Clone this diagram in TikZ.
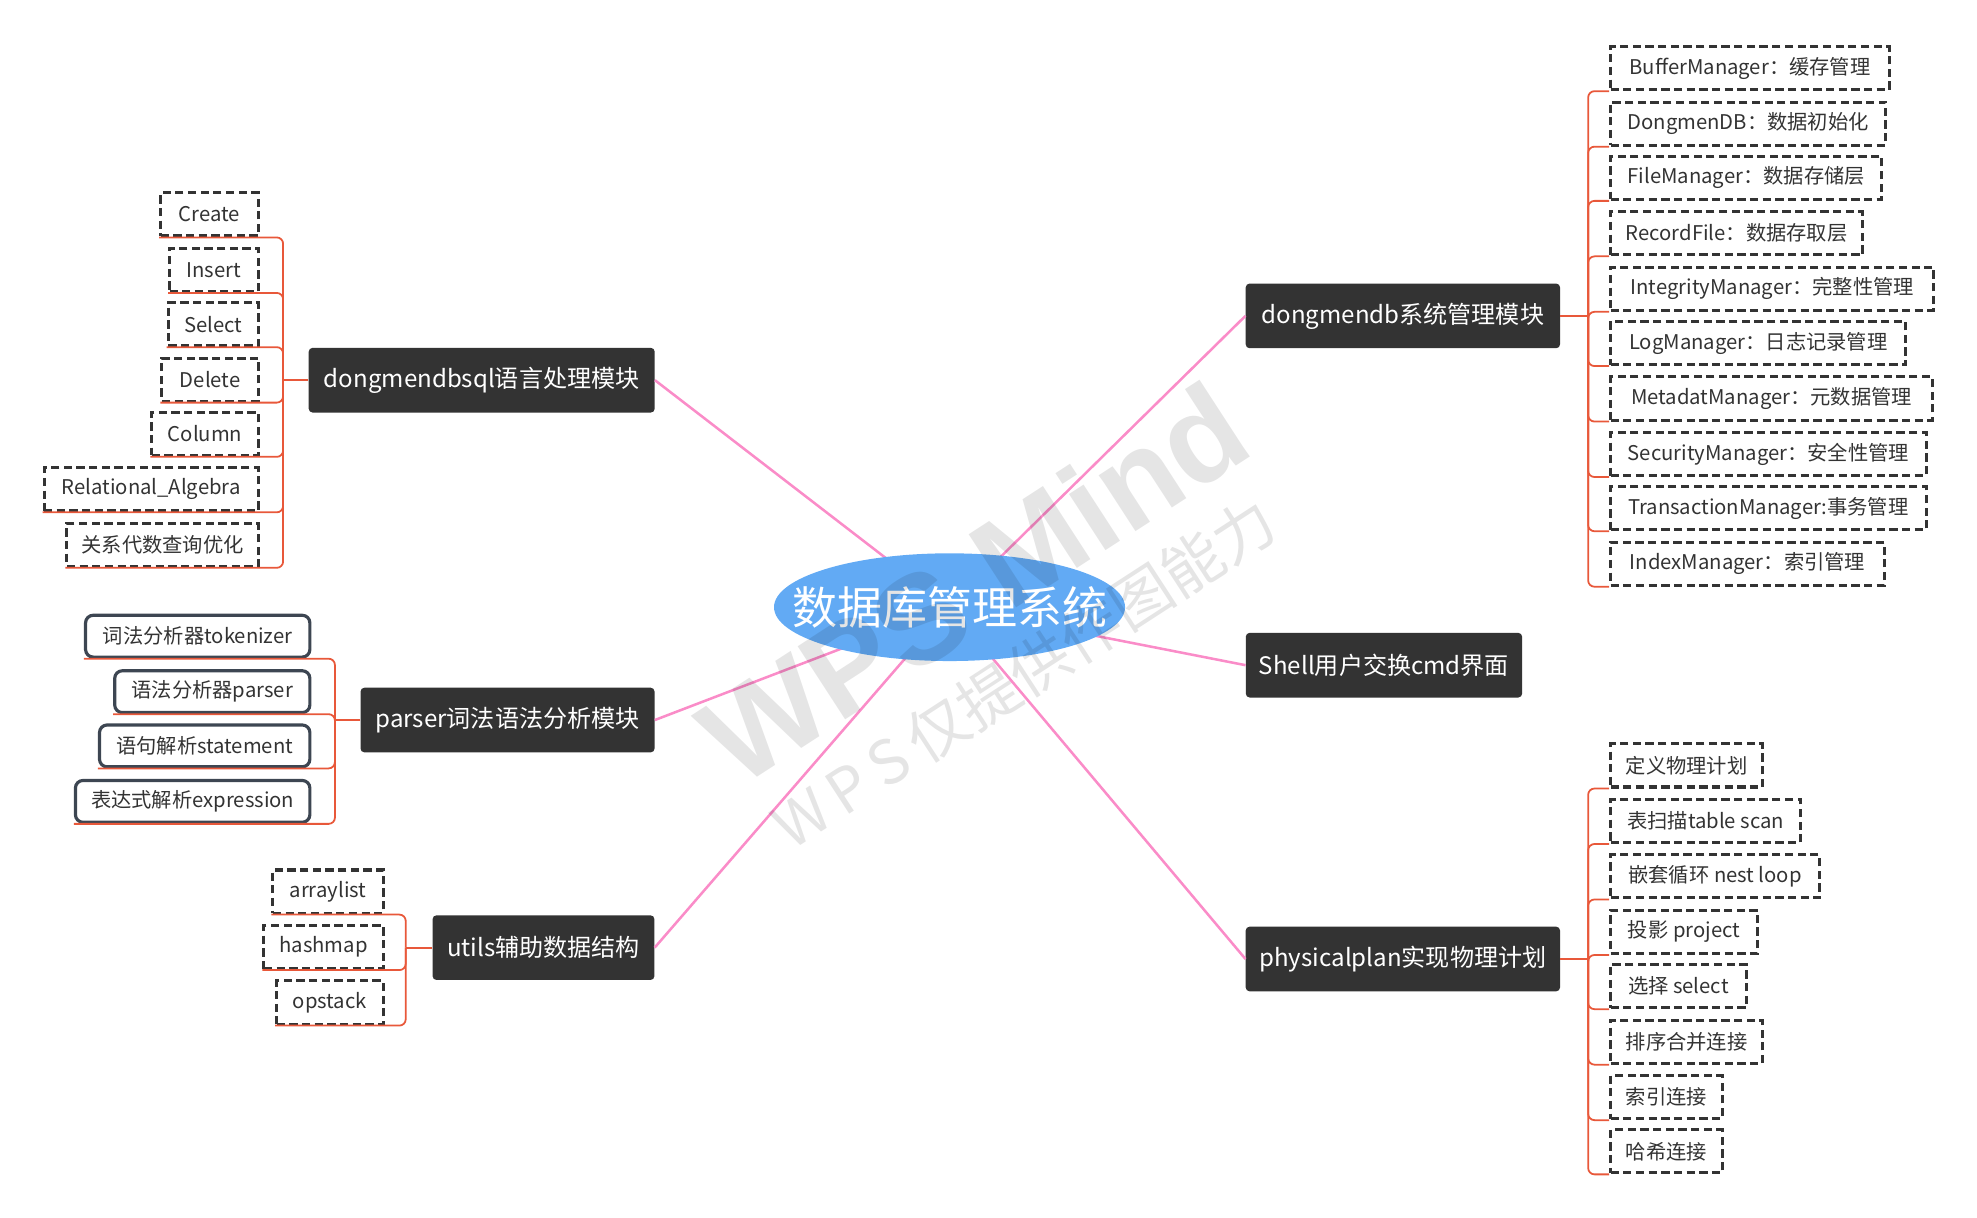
\documentclass[tikz,border=0pt]{standalone}
\usepackage{fontspec}
\setmainfont{Noto Sans CJK SC}
\newfontfamily\wmfont{Liberation Sans}
\usetikzlibrary{shapes.geometric}
\definecolor{boxc}{HTML}{333333}
\definecolor{leafc}{HTML}{333333}
\definecolor{slatec}{HTML}{3D4652}
\definecolor{brc}{HTML}{E8583A}
\definecolor{pinkc}{HTML}{FA8CC8}
\definecolor{centc}{HTML}{62AAF4}
\begin{document}
\begin{tikzpicture}[x=0.995pt,y=-0.995pt,
  mainbox/.style={fill=boxc, rounded corners=3pt, text=white, font=\fontsize{19}{23}\selectfont, minimum height=51pt, inner xsep=4pt, inner ysep=0pt},
  leafd/.style={draw=leafc, line width=2.4pt, dash pattern=on 6.5pt off 3.5pt, text=leafc, font=\fontsize{16}{19}\selectfont, minimum height=34pt, inner xsep=3pt, inner ysep=0pt},
  leafr/.style={draw=slatec, line width=2.5pt, rounded corners=6pt, text=leafc, font=\fontsize{16}{19}\selectfont, minimum height=33pt, inner xsep=3pt, inner ysep=0pt},
  br/.style={draw=brc, line width=1.4pt, rounded corners=5pt},
  pk/.style={draw=pinkc, line width=2pt},
  wm/.style={text=black, opacity=0.1, rotate=33}]
\useasboundingbox (0,0) rectangle (1567.8,965.8);
\coordinate (rc) at (753,481.5);
% main topics
\node[mainbox, minimum width=273pt] (m1) at (382,301.5) {dongmendbsql语言处理模块};
\node[mainbox, minimum width=232pt] (m2) at (402.5,571) {parser词法语法分析模块};
\node[mainbox, minimum width=175pt] (m3) at (431,751.5) {utils辅助数据结构};
\node[mainbox, minimum width=248pt] (m4) at (1112.5,250.5) {dongmendb系统管理模块};
\node[mainbox, minimum width=218pt] (m5) at (1097.5,527.5) {Shell用户交换cmd界面};
\node[mainbox, minimum width=248pt] (m6) at (1112.5,760.5) {physicalplan实现物理计划};
% pink connectors
\draw[pk] (rc) -- (m1.east);
\draw[pk] (rc) -- (m2.east);
\draw[pk] (rc) -- (m3.east);
\draw[pk] (rc) -- (m4.west);
\draw[pk] (rc) -- (m5.west);
\draw[pk] (rc) -- (m6.west);
% root
\node[ellipse, fill=centc, minimum width=277pt, minimum height=85pt, inner sep=0pt] (root) at (rc) {};
\node[text=white, font=\fontsize{35.5}{40}\selectfont, inner sep=0pt] (roottxt) at (rc) {数据库管理系统};
% trunk points
\coordinate (t1) at ([xshift=-20pt]m1.west);
\coordinate (t2) at ([xshift=-20pt]m2.west);
\coordinate (t3) at ([xshift=-21pt]m3.west);
\coordinate (t4) at ([xshift=22pt]m4.east);
\coordinate (t6) at ([xshift=22pt]m6.east);
% group 1 leaves
\node[leafd, anchor=east, minimum width=77pt] (c1) at (206,170) {Create};
\node[leafd, anchor=east, minimum width=70pt] (c2) at (206,214) {Insert};
\node[leafd, anchor=east, minimum width=71pt] (c3) at (206,257) {Select};
\node[leafd, anchor=east, minimum width=76pt] (c4) at (206,301) {Delete};
\node[leafd, anchor=east, minimum width=84pt] (c5) at (206,344) {Column};
\node[leafd, anchor=east, minimum width=169pt] (c6) at (206,388) {Relational\_Algebra};
\node[leafd, anchor=east, minimum width=151pt] (c7) at (206,432) {关系代数查询优化};
% group 2 leaves
\node[leafr, anchor=east, minimum width=177pt] (p1) at (247,504.5) {词法分析器tokenizer};
\node[leafr, anchor=east, minimum width=154pt] (p2) at (247,548.5) {语法分析器parser};
\node[leafr, anchor=east, minimum width=166pt] (p3) at (247,591.5) {语句解析statement};
\node[leafr, anchor=east, minimum width=185pt] (p4) at (247,635.5) {表达式解析expression};
% group 3 leaves
\node[leafd, anchor=east, minimum width=87pt] (u1) at (305,707) {arraylist};
\node[leafd, anchor=east, minimum width=94pt] (u2) at (305,751) {hashmap};
\node[leafd, anchor=east, minimum width=84pt] (u3) at (305,795) {opstack};
% group 4 leaves
\node[leafd, anchor=west, minimum width=220pt] (d1) at (1276,54) {BufferManager：缓存管理};
\node[leafd, anchor=west, minimum width=217pt] (d2) at (1276,98) {DongmenDB：数据初始化};
\node[leafd, anchor=west, minimum width=214pt] (d3) at (1276,141) {FileManager：数据存储层};
\node[leafd, anchor=west, minimum width=199pt] (d4) at (1276,185) {RecordFile：数据存取层};
\node[leafd, anchor=west, minimum width=255pt] (d5) at (1276,229) {IntegrityManager：完整性管理};
\node[leafd, anchor=west, minimum width=233pt] (d6) at (1276,272) {LogManager：日志记录管理};
\node[leafd, anchor=west, minimum width=254pt] (d7) at (1276,316) {MetadatManager：元数据管理};
\node[leafd, anchor=west, minimum width=249pt] (d8) at (1276,360) {SecurityManager：安全性管理};
\node[leafd, anchor=west, minimum width=249pt] (d9) at (1276,403) {TransactionManager:事务管理};
\node[leafd, anchor=west, minimum width=216pt] (d10) at (1276,447) {IndexManager：索引管理};
% group 6 leaves
\node[leafd, anchor=west, minimum width=120pt] (f1) at (1276,607) {定义物理计划};
\node[leafd, anchor=west, minimum width=150pt] (f2) at (1276,651) {表扫描table scan};
\node[leafd, anchor=west, minimum width=165pt] (f3) at (1276,695) {嵌套循环 nest loop};
\node[leafd, anchor=west, minimum width=116pt] (f4) at (1276,739) {投影 project};
\node[leafd, anchor=west, minimum width=107pt] (f5) at (1276,782) {选择 select};
\node[leafd, anchor=west, minimum width=120pt] (f6) at (1276,826) {排序合并连接};
\node[leafd, anchor=west, minimum width=88pt] (f7) at (1276,870) {索引连接};
\node[leafd, anchor=west, minimum width=88pt] (f8) at (1276,913) {哈希连接};
% bracket connectors
\draw[br] (m1.west) -- (t1);
\foreach \c in {c1,c2,c3,c4,c5,c6,c7} \draw[br] (t1) |- (\c.south west);
\draw[br] (m2.west) -- (t2);
\foreach \c in {p1,p2,p3,p4} \draw[br] (t2) |- (\c.south west);
\draw[br] (m3.west) -- (t3);
\foreach \c in {u1,u2,u3} \draw[br] (t3) |- (\c.south west);
\draw[br] (m4.east) -- (t4);
\foreach \c in {d1,d2,d3,d4,d5,d6,d7,d8,d9,d10} \draw[br] (t4) |- (\c.south west);
\draw[br] (m6.east) -- (t6);
\foreach \c in {f1,f2,f3,f4,f5,f6,f7,f8} \draw[br] (t6) |- (\c.south west);
% watermark
\node[wm, font=\wmfont\bfseries\fontsize{100}{100}\selectfont] (w1) at (772,462) {WPS Mind};
\node[wm, font=\fontsize{48}{50}\selectfont] (w2) at (812,534) {W\,P\,S\,仅提供作图能力};
\end{tikzpicture}
\end{document}
